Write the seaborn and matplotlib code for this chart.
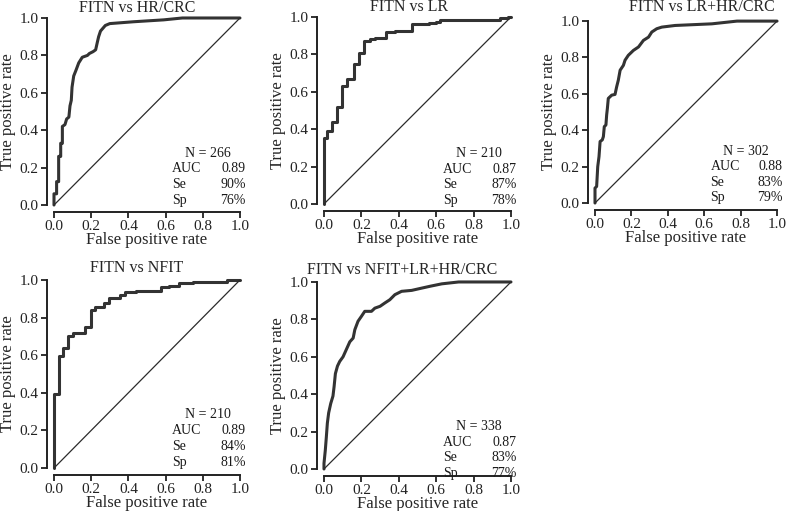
import matplotlib
matplotlib.use("Agg")
import matplotlib.pyplot as plt
import seaborn as sns
import pandas as pd

# panel titles and summary statistics
titles = ["FITN vs HR/CRC", "FITN vs LR", "FITN vs LR+HR/CRC",
          "FITN vs NFIT", "FITN vs NFIT+LR+HR/CRC"]
n_values = [266, 210, 302, 210, 338]
auc_values = [0.89, 0.87, 0.88, 0.89, 0.87]
se_values = [90, 87, 83, 84, 83]
sp_values = [76, 78, 79, 81, 77]

# ROC curves
fpr_hr = [0, 0, 0.014, 0.014, 0.025, 0.025, 0.036, 0.036, 0.045, 0.045, 0.059,
          0.068, 0.08, 0.086, 0.093, 0.097, 0.106, 0.118, 0.133, 0.152, 0.18,
          0.19, 0.21, 0.224, 0.233, 0.24, 0.25, 0.276, 0.30, 0.43, 0.59, 0.69, 1.0]
tpr_hr = [0, 0.06, 0.06, 0.125, 0.125, 0.26, 0.26, 0.33, 0.33, 0.42, 0.43,
          0.46, 0.47, 0.53, 0.56, 0.63, 0.69, 0.72, 0.76, 0.79, 0.80,
          0.81, 0.82, 0.83, 0.87, 0.90, 0.93, 0.96, 0.97, 0.98, 0.99, 1.0, 1.0]

fpr_lr = [0, 0, 0.018, 0.043, 0.071, 0.096, 0.125, 0.16, 0.186, 0.214, 0.245,
          0.275, 0.33, 0.38, 0.47, 0.55, 0.56, 0.60, 0.62, 0.94, 0.985, 1.0]
tpr_lr = [0, 0.352, 0.39, 0.44, 0.52, 0.63, 0.67, 0.75, 0.81, 0.87, 0.88,
          0.89, 0.92, 0.927, 0.96, 0.965, 0.97, 0.975, 0.985, 0.995, 1.0, 1.0]

fpr_lrhr = [0, 0, 0.009, 0.015, 0.022, 0.028, 0.04, 0.046, 0.051, 0.06, 0.064,
            0.068, 0.073, 0.092, 0.11, 0.119, 0.128, 0.138, 0.156, 0.165, 0.183,
            0.211, 0.239, 0.266, 0.294, 0.312, 0.339, 0.367, 0.44, 0.642, 0.734,
            0.78, 1.0]
tpr_lrhr = [0, 0.082, 0.091, 0.2, 0.255, 0.338, 0.347, 0.365, 0.42, 0.429, 0.484,
            0.52, 0.575, 0.593, 0.597, 0.639, 0.675, 0.73, 0.757, 0.785, 0.812,
            0.839, 0.858, 0.894, 0.912, 0.94, 0.958, 0.967, 0.976, 0.985, 0.995,
            1.0, 1.0]

fpr_nfit = [0, 0, 0.029, 0.05, 0.077, 0.104, 0.167, 0.197, 0.22, 0.269, 0.297,
            0.355, 0.38, 0.44, 0.575, 0.62, 0.67, 0.75, 0.93, 1.0]
tpr_nfit = [0, 0.395, 0.596, 0.637, 0.703, 0.72, 0.75, 0.841, 0.855, 0.876, 0.903,
            0.92, 0.938, 0.943, 0.96, 0.97, 0.982, 0.99, 1.0, 1.0]

fpr_all = [0, 0, 0.007, 0.0125, 0.018, 0.025, 0.036, 0.048, 0.054, 0.061, 0.072,
           0.084, 0.102, 0.12, 0.138, 0.156, 0.165, 0.182, 0.2, 0.218, 0.254,
           0.272, 0.3, 0.326, 0.352, 0.379, 0.415, 0.469, 0.522, 0.567, 0.63,
           0.72, 1.0]
tpr_all = [0, 0.03, 0.1, 0.17, 0.245, 0.3, 0.35, 0.39, 0.44, 0.51, 0.55,
           0.575, 0.6, 0.64, 0.68, 0.7, 0.745, 0.79, 0.816, 0.843, 0.843,
           0.86, 0.87, 0.888, 0.905, 0.932, 0.95, 0.955, 0.967, 0.977, 0.99,
           1.0, 1.0]

curves = [(fpr_hr, tpr_hr), (fpr_lr, tpr_lr), (fpr_lrhr, tpr_lrhr),
          (fpr_nfit, tpr_nfit), (fpr_all, tpr_all)]

# layout: axes rect (figure fraction), step style, title x / offset (px), stats y
rects = [[0.0687, 0.5988, 0.2366, 0.366],
         [0.4122, 0.6008, 0.2379, 0.366],
         [0.7570, 0.6027, 0.2316, 0.356],
         [0.0687, 0.0841, 0.2366, 0.368],
         [0.4122, 0.0822, 0.2379, 0.366]]
styles = ["default", "steps-post", "default", "steps-post", "default"]
title_x = [0.446, 0.455, 0.588, 0.446, 0.42]
title_off = [10, 10, 14, 12, 12]
stat_y = [0.277, 0.27, 0.283, 0.283, 0.227]

sns.set_style("ticks")
plt.rcParams['font.family'] = ['Liberation Serif', 'DejaVu Serif']

W, H = 786, 511
fig = plt.figure(figsize=(W / 100, H / 100), dpi=100)

line_col = "#333333"
for i, (fpr, tpr) in enumerate(curves):
    ax = fig.add_axes(rects[i])
    h_px = rects[i][3] * H
    w_px = rects[i][2] * W
    df = pd.DataFrame({"fpr": fpr, "tpr": tpr})
    sns.lineplot(data=df, x="fpr", y="tpr", ax=ax, sort=False, estimator=None,
                 color=line_col, lw=2.2, drawstyle=styles[i], clip_on=False)
    ax.plot([0, 1], [0, 1], color="#2b2b2b", lw=0.9, clip_on=False)

    ax.set_xlim(0, 1)
    ax.set_ylim(0, 1)
    ax.set_xticks([0, 0.2, 0.4, 0.6, 0.8, 1.0])
    ax.set_yticks([0, 0.2, 0.4, 0.6, 0.8, 1.0])
    ax.set_xticklabels(["0.0", "0.2", "0.4", "0.6", "0.8", "1.0"])
    ax.set_yticklabels(["0.0", "0.2", "0.4", "0.6", "0.8", "1.0"])
    sns.despine(ax=ax, offset=5)
    for s in ["left", "bottom"]:
        ax.spines[s].set_linewidth(1.4)
        ax.spines[s].set_color("#222222")
    ax.tick_params(direction="out", length=4, width=1.3, labelsize=11,
                   colors="#222222", pad=2)
    ax.grid(False)

    ax.set_xlabel("False positive rate", fontsize=12)
    ax.set_ylabel("True positive rate", fontsize=12)
    ax.xaxis.set_label_coords(0.5, -35 / h_px)
    ax.xaxis.label.set_verticalalignment("center")
    ax.yaxis.set_label_coords(-46 / w_px, 0.5)
    ax.yaxis.label.set_verticalalignment("center")

    ax.set_title(titles[i], fontsize=11.5, x=title_x[i],
                 y=1 + title_off[i] / h_px, pad=0, va="center")

    y0 = stat_y[i]
    dy = 0.084
    kw = dict(fontsize=10, va="center", color="#1a1a1a")
    ax.text(0.83, y0, f"N = {n_values[i]}", ha="center", **kw)
    ax.text(0.635, y0 - dy, "AUC", ha="left", **kw)
    ax.text(1.03, y0 - dy, f"{auc_values[i]:.2f}", ha="right", **kw)
    ax.text(0.635, y0 - 2 * dy, "Se", ha="left", **kw)
    ax.text(1.03, y0 - 2 * dy, f"{se_values[i]}%", ha="right", **kw)
    ax.text(0.635, y0 - 3 * dy, "Sp", ha="left", **kw)
    ax.text(1.03, y0 - 3 * dy, f"{sp_values[i]}%", ha="right", **kw)

fig.savefig("out.png", dpi=100)
